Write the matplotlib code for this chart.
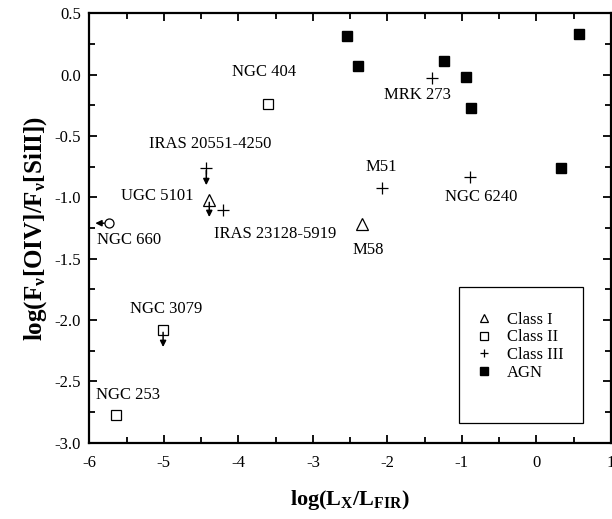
import matplotlib
matplotlib.use("Agg")
import matplotlib.pyplot as plt
from matplotlib.patches import Rectangle
from matplotlib.ticker import MultipleLocator, FormatStrFormatter

plt.rcParams["font.family"] = ["Liberation Serif", "DejaVu Serif"]
plt.rcParams["mathtext.fontset"] = "custom"
plt.rcParams["mathtext.rm"] = "Liberation Serif"
plt.rcParams["mathtext.it"] = "Liberation Serif:italic"
plt.rcParams["mathtext.bf"] = "Liberation Serif:bold"
plt.rcParams["axes.unicode_minus"] = False

# -----------------------------
# Data
# -----------------------------
class1_x = [-4.39, -2.34]
class1_y = [-1.02, -1.22]

class2_x = [-3.60, -5.01, -5.64]
class2_y = [-0.24, -2.08, -2.77]

class3_x = [-4.43, -4.21, -2.07, -1.40, -0.89]
class3_y = [-0.76, -1.10, -0.92, -0.03, -0.83]

agn_x = [-2.54, -2.40, -1.24, -0.95, -0.88, 0.58, 0.33]
agn_y = [0.32, 0.07, 0.11, -0.02, -0.27, 0.33, -0.76]

# NGC 660 (open circle, not in legend)
other_x = [-5.74]
other_y = [-1.21]

# upper limits (arrow down) and x upper limit (arrow left)
down_x = [-4.43, -4.39, -5.01]
down_y = [-0.76, -1.02, -2.08]
left_x = [-5.74]
left_y = [-1.21]

names = ["NGC 404", "IRAS 20551-4250", "UGC 5101", "NGC 660", "IRAS 23128-5919",
         "NGC 3079", "NGC 253", "MRK 273", "M51", "NGC 6240", "M58"]
name_x = [-3.60, -4.43, -4.39, -5.74, -4.21, -5.01, -5.64, -1.40, -2.07, -0.89, -2.34]
name_y = [-0.24, -0.76, -1.02, -1.21, -1.10, -2.08, -2.77, -0.03, -0.92, -0.83, -1.22]
# label offsets in pixels from the point
name_off = [(-4, 32), (4, 24), (-52, 4), (20, -17), (52, -24),
            (3, 21), (12, 20), (-15, -17), (-1, 21), (11, -20), (6, -26)]

# -----------------------------
# Plot
# -----------------------------
fig = plt.figure(figsize=(6.12, 5.19), dpi=100)
ax = fig.add_axes([0.146, 0.147, 0.852, 0.827])

ax.plot(class1_x, class1_y, "^", ms=8, mfc="white", mec="black", mew=0.9, ls="none", label="Class I")
ax.plot(class2_x, class2_y, "s", ms=6.5, mfc="white", mec="black", mew=0.9, ls="none", label="Class II")
ax.plot(class3_x, class3_y, "+", ms=8, mec="black", mew=0.9, ls="none", label="Class III")
ax.plot(agn_x, agn_y, "s", ms=6.5, mfc="black", mec="black", ls="none", label="AGN")
ax.plot(other_x, other_y, "o", ms=6.5, mfc="white", mec="black", mew=0.9, ls="none")

for x, y in zip(down_x, down_y):
    ax.annotate("", xy=(x, y - 0.14), xytext=(x, y - 0.02),
                arrowprops=dict(arrowstyle="-|>", color="black", lw=1.1, mutation_scale=9,
                                shrinkA=0, shrinkB=0))
for x, y in zip(left_x, left_y):
    ax.annotate("", xy=(x - 0.18, y), xytext=(x - 0.06, y),
                arrowprops=dict(arrowstyle="-|>", color="black", lw=1.1, mutation_scale=9,
                                shrinkA=0, shrinkB=0))

for name, x, y, off in zip(names, name_x, name_y, name_off):
    ax.annotate(name, xy=(x, y), xytext=off, textcoords="offset pixels",
                ha="center", va="center", fontsize=12)

ax.set_xlim(-6, 1)
ax.set_ylim(-3.0, 0.5)
ax.xaxis.set_major_locator(MultipleLocator(1))
ax.xaxis.set_minor_locator(MultipleLocator(0.5))
ax.yaxis.set_major_locator(MultipleLocator(0.5))
ax.yaxis.set_minor_locator(MultipleLocator(0.25))
ax.yaxis.set_major_formatter(FormatStrFormatter("%.1f"))

ax.tick_params(which="both", direction="in", top=True, right=True, width=1.3, labelsize=12)
ax.tick_params(which="major", length=6)
ax.tick_params(which="minor", length=4)
ax.tick_params(axis="x", pad=9)
ax.tick_params(axis="y", pad=6)
for s in ax.spines.values():
    s.set_linewidth(1.6)

ax.set_xlabel(r"$\mathbf{log(L_X/L_{FIR})}$", fontsize=16, labelpad=12)
ax.set_ylabel(r"$\mathbf{log(F_{\nu}[OIV]/F_{\nu}[SiII])}$", fontsize=18, labelpad=4)

# legend box
ax.add_patch(Rectangle((0.7096, 0.0452), 0.2367, 0.3167, transform=ax.transAxes,
                       fill=False, ec="black", lw=0.9, zorder=5))
ax.legend(loc="upper left", bbox_to_anchor=(0.74, 0.305), frameon=False, fontsize=12,
          markerscale=0.8, handlelength=1.0, handletextpad=0.9, labelspacing=0.1,
          borderpad=0, borderaxespad=0)

fig.savefig("out.png", dpi=100)
